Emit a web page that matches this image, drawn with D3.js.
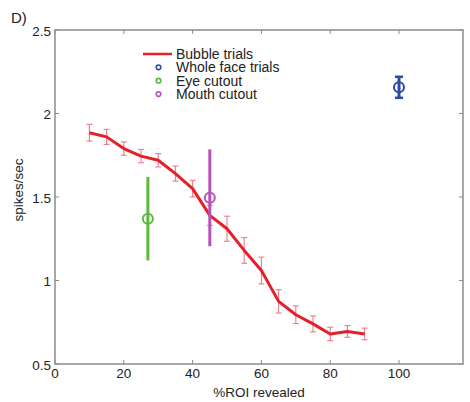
<!DOCTYPE html>
<html>
<head>
<meta charset="utf-8">
<script src="https://cdn.jsdelivr.net/npm/d3@7"></script>
<style>
body { margin:0; background:#fff; }
svg text { font-family: "Liberation Sans", Arial, sans-serif; fill:#222; }
</style>
</head>
<body>
<div id="chart"></div>
<script>
// bubble trials curve
var roiPct = [10, 15, 20, 25, 30, 35, 40, 45, 50, 55, 60, 65, 70, 75, 80, 85, 90];
var bubbleRate = [1.885, 1.86, 1.79, 1.745, 1.72, 1.64, 1.55, 1.39, 1.31, 1.18, 1.06, 0.875, 0.795, 0.74, 0.68, 0.695, 0.68];
var bubbleErr = [0.05, 0.045, 0.04, 0.04, 0.04, 0.045, 0.05, 0.06, 0.075, 0.077, 0.08, 0.07, 0.053, 0.048, 0.04, 0.035, 0.035];

// single conditions
var condNames = ["Whole face trials", "Eye cutout", "Mouth cutout"];
var condX = [100, 27, 45];
var condRate = [2.157, 1.37, 1.495];
var condErr = [0.063, 0.25, 0.29];
var condColors = ["#2f4aa3", "#5bbb3c", "#b653b5"];

var xTicks = [0, 20, 40, 60, 80, 100];
var yTicks = [0.5, 1, 1.5, 2, 2.5];

var W = 470, H = 402;
var margin = {top: 30, right: 7, bottom: 38, left: 55};
var red = "#e4202a", pink = "#ee7a86", axisCol = "#8c8c8c";

var svg = d3.select("#chart").append("svg")
    .attr("width", W).attr("height", H);

var x = d3.scaleLinear().domain([0, 118.6]).range([margin.left, W - margin.right]);
var y = d3.scaleLinear().domain([0.5, 2.5]).range([H - margin.bottom, margin.top]);

// frame
svg.append("rect")
    .attr("x", x(0)).attr("y", y(2.5))
    .attr("width", x(118.6) - x(0)).attr("height", y(0.5) - y(2.5))
    .attr("fill", "none").attr("stroke", axisCol).attr("stroke-width", 1.5);

// inward ticks, matlab style
var tl = 4;
xTicks.forEach(function(t) {
  svg.append("line").attr("x1", x(t)).attr("x2", x(t)).attr("y1", y(0.5)).attr("y2", y(0.5) - tl)
    .attr("stroke", axisCol).attr("stroke-width", 1);
  svg.append("line").attr("x1", x(t)).attr("x2", x(t)).attr("y1", y(2.5)).attr("y2", y(2.5) + tl)
    .attr("stroke", axisCol).attr("stroke-width", 1);
  svg.append("text").attr("x", x(t)).attr("y", y(0.5) + 14)
    .attr("text-anchor", "middle").attr("font-size", 13.5).text(t);
});
yTicks.forEach(function(t) {
  svg.append("line").attr("x1", x(0)).attr("x2", x(0) + tl).attr("y1", y(t)).attr("y2", y(t))
    .attr("stroke", axisCol).attr("stroke-width", 1);
  svg.append("line").attr("x1", x(118.6)).attr("x2", x(118.6) - tl).attr("y1", y(t)).attr("y2", y(t))
    .attr("stroke", axisCol).attr("stroke-width", 1);
  svg.append("text").attr("x", x(0) - 4).attr("y", y(t) + 1).attr("dy", "0.35em")
    .attr("text-anchor", "end").attr("font-size", 13.5).text(t);
});

svg.append("text").attr("x", (x(0) + x(118.6)) / 2).attr("y", 397)
    .attr("text-anchor", "middle").attr("font-size", 13.5).text("%ROI revealed");
svg.append("text").attr("transform", "translate(23," + 190 + ") rotate(-90)")
    .attr("text-anchor", "middle").attr("font-size", 13.5).text("spikes/sec");
svg.append("text").attr("x", 11).attr("y", 23).attr("font-size", 15).text("D)");

// bubble error bars
var cap = 3;
roiPct.forEach(function(p, i) {
  var g = svg.append("g").attr("stroke", pink).attr("stroke-width", 1.1);
  var y0 = y(bubbleRate[i] - bubbleErr[i]), y1 = y(bubbleRate[i] + bubbleErr[i]);
  g.append("line").attr("x1", x(p)).attr("x2", x(p)).attr("y1", y0).attr("y2", y1);
  g.append("line").attr("x1", x(p) - cap).attr("x2", x(p) + cap).attr("y1", y0).attr("y2", y0);
  g.append("line").attr("x1", x(p) - cap).attr("x2", x(p) + cap).attr("y1", y1).attr("y2", y1);
});

var line = d3.line()
    .x(function(d, i) { return x(roiPct[i]); })
    .y(function(d) { return y(d); });
svg.append("path").datum(bubbleRate)
    .attr("d", line).attr("fill", "none")
    .attr("stroke", red).attr("stroke-width", 3).attr("stroke-linejoin", "round");

// condition points
condX.forEach(function(p, i) {
  var c = condColors[i];
  var y0 = y(condRate[i] - condErr[i]), y1 = y(condRate[i] + condErr[i]);
  svg.append("line").attr("x1", x(p)).attr("x2", x(p)).attr("y1", y0).attr("y2", y1)
    .attr("stroke", c).attr("stroke-width", 3);
  if (i == 0) {
    [y0, y1].forEach(function(yy) {
      svg.append("line").attr("x1", x(p) - 4).attr("x2", x(p) + 4).attr("y1", yy).attr("y2", yy)
        .attr("stroke", c).attr("stroke-width", 2.5);
    });
  }
  svg.append("circle").attr("cx", x(p)).attr("cy", y(condRate[i])).attr("r", 5)
    .attr("fill", "none").attr("stroke", c).attr("stroke-width", 2);
});

// legend
var lg = svg.append("g");
lg.append("line").attr("x1", 143).attr("x2", 172).attr("y1", 54).attr("y2", 54)
    .attr("stroke", red).attr("stroke-width", 2.5);
lg.append("text").attr("x", 176).attr("y", 54).attr("dy", "0.35em").attr("font-size", 14).text("Bubble trials");
condNames.forEach(function(n, i) {
  var yy = 67.3 + i * 13.4;
  lg.append("circle").attr("cx", 158.5).attr("cy", yy).attr("r", 2.3)
    .attr("fill", "none").attr("stroke", condColors[i]).attr("stroke-width", 1.6);
  lg.append("text").attr("x", 176).attr("y", yy).attr("dy", "0.35em").attr("font-size", 14).text(n);
});
</script>
</body>
</html>
